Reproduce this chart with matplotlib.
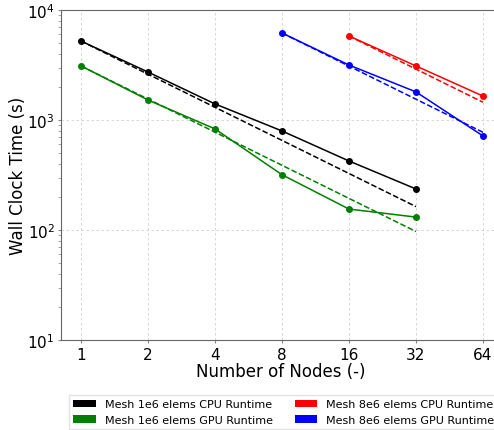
import matplotlib
matplotlib.use('Agg')
import matplotlib.pyplot as plt
from matplotlib.patches import Patch
from matplotlib.ticker import FixedLocator, FixedFormatter

# node counts
nodes_1e6 = [1, 2, 4, 8, 16, 32]
nodes_8e6_cpu = [16, 32, 64]
nodes_8e6_gpu = [8, 16, 32, 64]

# wall clock times (s)
cpu_1e6 = [5220, 2730, 1400, 795, 424, 236]
gpu_1e6 = [3100, 1520, 830, 318, 155, 131]
cpu_8e6 = [5800, 3100, 1650]
gpu_8e6 = [6180, 3160, 1800, 716]

x_ticks = [1, 2, 4, 8, 16, 32, 64]
labels = ['Mesh 1e6 elems CPU Runtime', 'Mesh 1e6 elems GPU Runtime',
          'Mesh 8e6 elems CPU Runtime', 'Mesh 8e6 elems GPU Runtime']


def ideal(nodes, times):
    # perfect strong scaling from the first point
    return [times[0] * nodes[0] / n for n in nodes]


fig = plt.figure(figsize=(4.94, 4.31), dpi=100)
ax = fig.add_axes([61 / 494, 1 - 341 / 431, 440 / 494, 330 / 431])

series = [
    (nodes_1e6, cpu_1e6, 'black'),
    (nodes_1e6, gpu_1e6, 'green'),
    (nodes_8e6_cpu, cpu_8e6, 'red'),
    (nodes_8e6_gpu, gpu_8e6, 'blue'),
]
for xs, ys, c in series:
    ax.plot(xs, ys, '-', color=c, marker='o', markersize=4, linewidth=1.1)
    ax.plot(xs, ideal(xs, ys), '--', color=c, linewidth=1.1)

ax.set_xscale('log', base=2)
ax.set_yscale('log')
ax.set_xlim(2 ** (-20 / 67), 2 ** (6 + 18 / 67))
ax.set_ylim(10, 1e4)
ax.xaxis.set_major_locator(FixedLocator(x_ticks))
ax.xaxis.set_major_formatter(FixedFormatter([str(t) for t in x_ticks]))
ax.xaxis.set_minor_locator(FixedLocator([]))

ax.grid(True, which='major', linestyle=(0, (3, 3)), color='#d0d0d0', linewidth=0.6)
for s in ax.spines.values():
    s.set_color('#666666')
ax.spines['right'].set_visible(False)
ax.tick_params(axis='both', which='major', labelsize=11, direction='out', length=2,
               color='#888888', pad=2.5)
ax.tick_params(axis='x', which='major', pad=3)
ax.tick_params(axis='y', which='minor', direction='out', length=2, color='#999999')

ax.set_xlabel('Number of Nodes (-)', fontsize=12, labelpad=0)
ax.set_ylabel('Wall Clock Time (s)', fontsize=12, labelpad=0)

handles = [Patch(facecolor=c) for _, _, c in series]
fig.legend(handles, labels, loc='upper left', bbox_to_anchor=(69 / 494, 1 - 396 / 431),
           ncol=2, fontsize=8, frameon=True, edgecolor='#dddddd', fancybox=False,
           handlelength=2.0, handletextpad=0.8, columnspacing=2.0, borderaxespad=0)

fig.savefig('out.png', dpi=100)
